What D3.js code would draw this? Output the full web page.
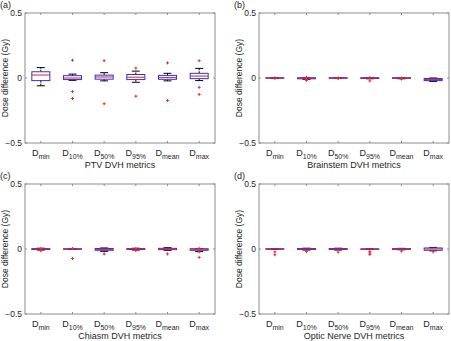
<!DOCTYPE html>
<html>
<head>
<meta charset="utf-8">
<script src="https://cdn.jsdelivr.net/npm/d3@7"></script>
<style>
  body { margin: 0; background: #fff; }
  svg { display: block; font-family: "Liberation Sans", Arial, sans-serif; }
</style>
</head>
<body>
<svg id="chart" width="451" height="341"></svg>
<script>
// metric names (subscripts under D)
const metrics = ["min", "10%", "50%", "95%", "mean", "max"];
const yTicks = [-0.5, 0, 0.5];

// PTV
const ptvQ1 = [-0.02, -0.012, -0.009, -0.012, -0.01, -0.005];
const ptvMed = [0.023, 0.0, 0.008, 0.006, 0.003, 0.015];
const ptvQ3 = [0.048, 0.018, 0.022, 0.027, 0.02, 0.036];
const ptvLo = [-0.06, -0.018, -0.022, -0.033, -0.022, -0.02];
const ptvHi = [0.08, 0.03, 0.041, 0.053, 0.036, 0.074];
const ptvOut = [[], [0.137, -0.105, -0.158], [0.133, -0.198], [0.076, -0.14], [0.116, -0.174], [0.133, -0.072, -0.126]];

// Brainstem
const bsQ1 = [-0.002, -0.006, -0.002, -0.004, -0.003, -0.02];
const bsMed = [0, -0.002, 0, 0, 0, -0.012];
const bsQ3 = [0.002, 0.002, 0.002, 0.002, 0.002, -0.004];
const bsLo = [-0.004, -0.01, -0.004, -0.006, -0.006, -0.026];
const bsHi = [0.003, 0.004, 0.003, 0.004, 0.003, 0];
const bsOut = [[0.001, -0.002], [-0.012, -0.018, 0.005], [0, -0.004], [0.003, -0.022], [0, -0.008], []];

// Chiasm
const chQ1 = [-0.004, -0.002, -0.01, -0.004, -0.005, -0.01];
const chMed = [0, 0, -0.003, 0, 0, -0.002];
const chQ3 = [0.003, 0.002, 0.004, 0.003, 0.005, 0.002];
const chLo = [-0.008, -0.004, -0.018, -0.008, -0.01, -0.02];
const chHi = [0.006, 0.004, 0.008, 0.006, 0.01, 0.004];
const chOut = [[-0.014, 0.004], [0.004, -0.074], [-0.038], [-0.012, 0.003], [-0.038], [0.004, -0.022, -0.064]];

// Optic nerve
const onQ1 = [-0.002, -0.004, -0.004, -0.001, -0.003, -0.01];
const onMed = [0, 0, 0, 0, 0, 0];
const onQ3 = [0.002, 0.004, 0.004, 0.001, 0.003, 0.008];
const onLo = [-0.004, -0.008, -0.008, -0.002, -0.006, -0.014];
const onHi = [0.003, 0.006, 0.006, 0.002, 0.005, 0.012];
const onOut = [[-0.022, -0.044], [-0.02], [-0.024], [-0.018, -0.03, -0.042], [-0.016], [-0.022]];

const panels = [
  { tag: "(a)", title: "PTV DVH metrics", left: 25, top: 13, q1: ptvQ1, med: ptvMed, q3: ptvQ3, lo: ptvLo, hi: ptvHi, out: ptvOut },
  { tag: "(b)", title: "Brainstem DVH metrics", left: 259, top: 13, q1: bsQ1, med: bsMed, q3: bsQ3, lo: bsLo, hi: bsHi, out: bsOut },
  { tag: "(c)", title: "Chiasm DVH metrics", left: 25, top: 184, q1: chQ1, med: chMed, q3: chQ3, lo: chLo, hi: chHi, out: chOut },
  { tag: "(d)", title: "Optic Nerve DVH metrics", left: 259, top: 184, q1: onQ1, med: onMed, q3: onQ3, lo: onLo, hi: onHi, out: onOut }
];

const W = 190, H = 130;
const axisColor = "#8c8c8c";
const textColor = "#262626";
const svg = d3.select("#chart");

panels.forEach(p => {
  const g = svg.append("g").attr("transform", `translate(${p.left},${p.top})`);

  const x = d3.scaleLinear().domain([0.5, 6.5]).range([0, W]);
  const y = d3.scaleLinear().domain([-0.5, 0.5]).range([H, 0]);
  const idx = d3.range(1, metrics.length + 1);
  const boxW = 18, capW = 8;

  // frame
  g.append("rect")
    .attr("width", W).attr("height", H)
    .attr("fill", "none").attr("stroke", axisColor).attr("stroke-width", 1);

  // ticks, inward on all sides
  idx.forEach(i => {
    g.append("line").attr("x1", x(i)).attr("x2", x(i)).attr("y1", H).attr("y2", H - 2).attr("stroke", axisColor);
    g.append("line").attr("x1", x(i)).attr("x2", x(i)).attr("y1", 0).attr("y2", 2).attr("stroke", axisColor);
  });
  yTicks.forEach(t => {
    g.append("line").attr("x1", 0).attr("x2", 2).attr("y1", y(t)).attr("y2", y(t)).attr("stroke", axisColor);
    g.append("line").attr("x1", W).attr("x2", W - 2).attr("y1", y(t)).attr("y2", y(t)).attr("stroke", axisColor);
    g.append("text")
      .attr("x", -3).attr("y", y(t)).attr("dy", "0.35em")
      .attr("text-anchor", "end").attr("font-size", 8.5).attr("fill", textColor)
      .text(t === 0 ? "0" : (t < 0 ? "\u22120.5" : "0.5"));
  });

  // x tick labels with subscripts
  metrics.forEach((m, i) => {
    const t = g.append("text")
      .attr("x", x(i + 1)).attr("y", H + 13)
      .attr("text-anchor", "middle").attr("font-size", 9).attr("fill", textColor);
    t.append("tspan").text("D");
    t.append("tspan").attr("font-size", 7).attr("dy", 3).text(m);
  });

  // axis titles and panel tag
  g.append("text")
    .attr("x", W / 2).attr("y", H + 25)
    .attr("text-anchor", "middle").attr("font-size", 9).attr("fill", textColor)
    .text(p.title);
  g.append("text")
    .attr("transform", `translate(-17,${H / 2}) rotate(-90)`)
    .attr("text-anchor", "middle").attr("font-size", 8.5).attr("fill", textColor)
    .text("Dose difference (Gy)");
  g.append("text")
    .attr("x", -25).attr("y", -5)
    .attr("font-size", 9).attr("fill", textColor)
    .text(p.tag);

  // boxes
  idx.forEach((i, k) => {
    const cx = x(i);
    // whiskers
    g.append("line").attr("x1", cx).attr("x2", cx).attr("y1", y(p.q3[k])).attr("y2", y(p.hi[k]))
      .attr("stroke", "#000").attr("stroke-dasharray", "2,1");
    g.append("line").attr("x1", cx).attr("x2", cx).attr("y1", y(p.q1[k])).attr("y2", y(p.lo[k]))
      .attr("stroke", "#000").attr("stroke-dasharray", "2,1");
    [p.hi[k], p.lo[k]].forEach(v => {
      g.append("line").attr("x1", cx - capW / 2).attr("x2", cx + capW / 2)
        .attr("y1", y(v)).attr("y2", y(v)).attr("stroke", "#000");
    });
    // box
    g.append("rect")
      .attr("x", cx - boxW / 2).attr("y", y(p.q3[k]))
      .attr("width", boxW).attr("height", Math.max(0.5, y(p.q1[k]) - y(p.q3[k])))
      .attr("fill", "#fff").attr("stroke", "#3030e0").attr("stroke-width", 1);
    // median
    g.append("line").attr("x1", cx - boxW / 2).attr("x2", cx + boxW / 2)
      .attr("y1", y(p.med[k])).attr("y2", y(p.med[k]))
      .attr("stroke", "#e02020").attr("stroke-width", 1);
    // outliers
    p.out[k].forEach(v => {
      g.append("path")
        .attr("d", `M${cx - 1.5},${y(v)}H${cx + 1.5}M${cx},${y(v) - 1.5}V${y(v) + 1.5}`)
        .attr("stroke", "#e23030").attr("stroke-width", 1);
    });
  });
});
</script>
</body>
</html>
